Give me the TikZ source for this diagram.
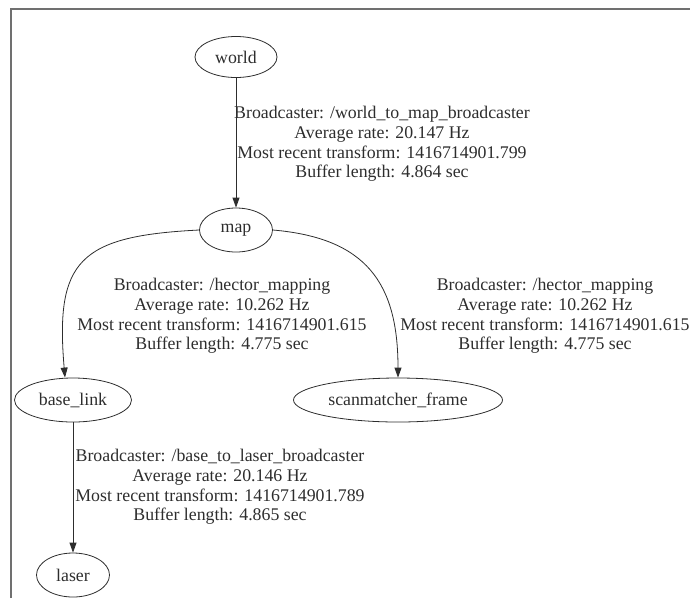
\documentclass[tikz,border=0pt]{standalone}
\usepackage{fontspec}
\setmainfont{Liberation Serif}
\usetikzlibrary{arrows.meta,shapes.geometric}
\definecolor{ink}{RGB}{45,45,45}
\definecolor{frame}{RGB}{112,112,112}
\tikzset{
  tfnode/.style={ellipse,draw=ink,thick,inner sep=0pt,minimum height=44pt,text=ink,
    font=\fontsize{17.8}{19.6}\selectfont},
  tflabel/.style={align=center,inner sep=0pt,text=ink,font=\fontsize{17.8}{19.6}\selectfont},
  tfedge/.style={draw=ink,thick,-{Triangle[length=10pt,width=7pt]}}
}

\begin{document}
\begin{tikzpicture}[x=1pt,y=-1pt]
        \useasboundingbox (0,0) rectangle (690,598);
        \draw[frame,line width=2pt] (11,598) -- (11,9) -- (690,9);
        \node[tfnode,minimum width=82pt,minimum height=41pt] (world) at (236,57) {world};
        \node[tfnode,minimum width=73pt] (map) at (236,230) {map};
        \node[tfnode,minimum width=117pt] (base) at (73,400) {base\_link};
        \node[tfnode,minimum width=209pt] (scan) at (398,400) {scanmatcher\_frame};
        \node[tfnode,minimum width=73pt] (laser) at (73,575) {laser};
        \draw[tfedge] (world) -- (map);
        \draw[tfedge] (map.west) .. controls +(-120,6) and +(-10,-117) .. ([xshift=-8pt]base.north);
        \draw[tfedge] (map.east) .. controls +(93,8) and +(0,-95) .. (scan.north);
        \draw[tfedge] (base) -- (laser);
        \node[tflabel] (lblworld) at (382,144) {Broadcaster: /world\_to\_map\_broadcaster\\Average rate: 20.147 Hz\\Most recent transform: 1416714901.799\\Buffer length: 4.864 sec};
        \node[tflabel] (lblbase) at (222,316) {Broadcaster: /hector\_mapping\\Average rate: 10.262 Hz\\Most recent transform: 1416714901.615\\Buffer length: 4.775 sec};
        \node[tflabel] (lblscan) at (545,316) {Broadcaster: /hector\_mapping\\Average rate: 10.262 Hz\\Most recent transform: 1416714901.615\\Buffer length: 4.775 sec};
        \node[tflabel] (lbllaser) at (220,487) {Broadcaster: /base\_to\_laser\_broadcaster\\Average rate: 20.146 Hz\\Most recent transform: 1416714901.789\\Buffer length: 4.865 sec};
      \end{tikzpicture}
\end{document}
